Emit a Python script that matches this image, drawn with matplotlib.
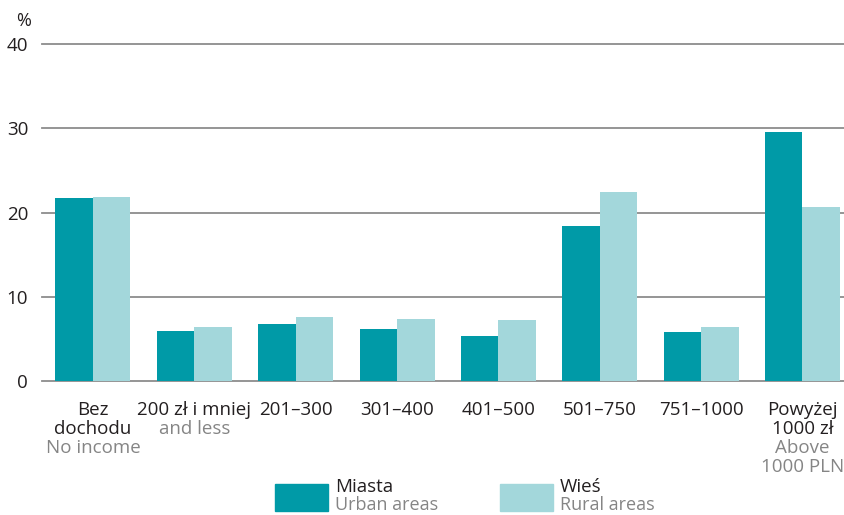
import matplotlib.pyplot as plt
import numpy as np
from matplotlib.patches import Rectangle
from matplotlib.transforms import blended_transform_factory

# income groups: Polish label lines, English label lines
labels_pl = [["Bez", "dochodu"], ["200 zł i mniej"], ["201–300"], ["301–400"],
             ["401–500"], ["501–750"], ["751–1000"], ["Powyżej", "1000 zł"]]
labels_en = [["No income"], ["and less"], [], [], [], [], [], ["Above", "1000 PLN"]]

miasta = [21.7, 5.9, 6.8, 6.2, 5.3, 18.4, 5.8, 29.6]
wies = [21.8, 6.4, 7.6, 7.4, 7.2, 22.4, 6.4, 20.7]
yticks = [0, 10, 20, 30, 40]

c_urban = "#009aa7"
c_rural = "#a3d7db"
c_dark = "#231f20"
c_gray = "#858585"
grid_c = "#8c8c8c"
fs = 13.5

plt.rcParams["font.family"] = ["Open Sans", "DejaVu Sans"]

W, H = 845, 515
fig = plt.figure(figsize=(W / 100, H / 100), dpi=100)


def fy(px):
    # figure fraction from a pixel row counted from the top
    return 1 - px / H


ax = fig.add_axes([42 / W, fy(381), (W - 42) / W, (381 - 44) / H])
x = np.arange(len(miasta))
bw = 0.37
ax.bar(x - bw / 2, miasta, bw, color=c_urban, zorder=3)
ax.bar(x + bw / 2, wies, bw, color=c_rural, zorder=3)

ax.set_xlim(-0.503, 7.42)
ax.set_ylim(0, 40)
for t in yticks:
    ax.axhline(t, color=grid_c, lw=1.3, zorder=1, clip_on=False)
for s in ax.spines.values():
    s.set_visible(False)
ax.set_xticks([])
ax.set_yticks(yticks)
ax.set_yticklabels([str(t) for t in yticks], fontsize=fs, color=c_dark)
ax.tick_params(axis="y", length=0, pad=10)

fig.text(31 / W, fy(21), "%", ha="right", va="center", fontsize=fs - 0.5, color=c_dark)

# category labels under the bars
trans = blended_transform_factory(ax.transData, fig.transFigure)
for i in range(len(miasta)):
    row = 0
    for line in labels_pl[i]:
        ax.text(i, fy(410 + 19 * row), line, transform=trans, ha="center",
                va="center", fontsize=fs, color=c_dark)
        row += 1
    for line in labels_en[i]:
        ax.text(i, fy(410 + 19 * row), line, transform=trans, ha="center",
                va="center", fontsize=fs, color=c_gray)
        row += 1

# legend
for x0, col, pl, en in [(275, c_urban, "Miasta", "Urban areas"),
                        (500, c_rural, "Wieś", "Rural areas")]:
    fig.patches.append(Rectangle((x0 / W, fy(511)), 53 / W, 27 / H,
                                 transform=fig.transFigure, color=col))
    fig.text((x0 + 60) / W, fy(487), pl, ha="left", va="center",
             fontsize=fs, color=c_dark)
    fig.text((x0 + 60) / W, fy(505), en, ha="left", va="center",
             fontsize=fs - 0.5, color=c_gray)

fig.savefig("out.png", dpi=100)
